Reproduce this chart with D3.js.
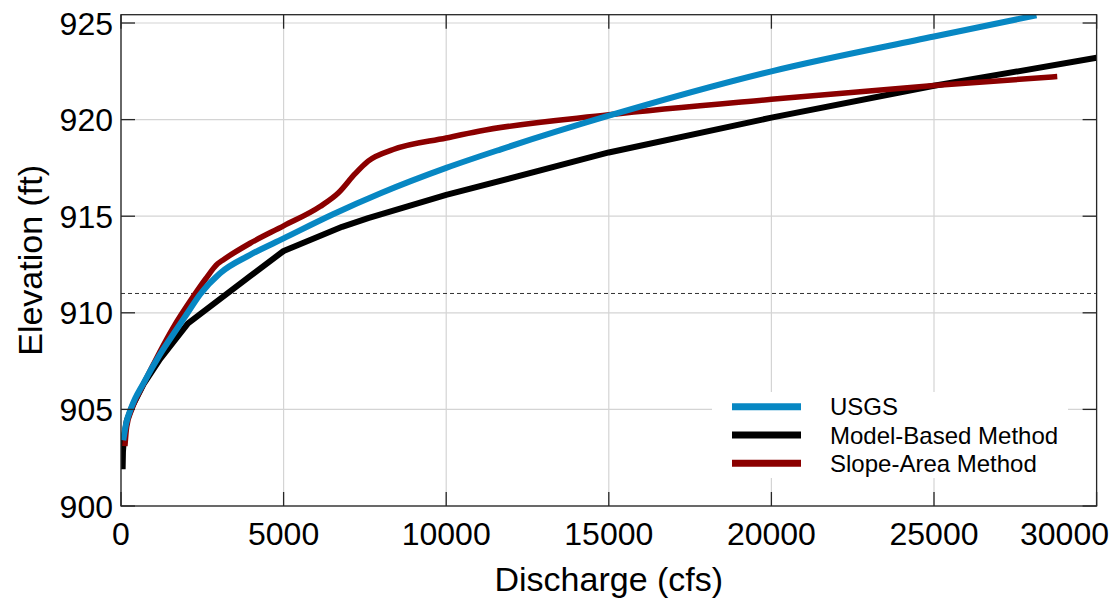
<!DOCTYPE html>
<html>
<head>
<meta charset="utf-8">
<script src="https://cdn.jsdelivr.net/npm/d3@7"></script>
<style>
  html, body { margin: 0; padding: 0; background: #fff; }
  svg { display: block; font-family: "Liberation Sans", Arial, sans-serif; }
</style>
</head>
<body>
<svg id="chart" width="1117" height="601"></svg>
<script>
// ---- data ----
const xTicks = [0, 5000, 10000, 15000, 20000, 25000, 30000];
const yTicks = [900, 905, 910, 915, 920, 925];
const refElevation = 911;

const usgsQ = [70, 150, 330, 690, 1200, 1710, 2030, 2430, 3046, 3970, 5000, 6520, 8000, 10000, 11660, 15000, 20000, 25000, 28150];
const usgsE = [903.4, 904.2, 905.15, 906.35, 907.85, 909.15, 909.95, 910.95, 912.05, 913.0, 913.85, 915.1, 916.2, 917.5, 918.45, 920.2, 922.5, 924.3, 925.4];

const modelQ = [50, 60, 90, 175, 330, 690, 1200, 1710, 2060, 3970, 5000, 6800, 7600, 10000, 15000, 20000, 25000, 30000];
const modelE = [901.9, 902.8, 903.5, 904.4, 905.1, 906.3, 907.6, 908.7, 909.45, 911.9, 913.2, 914.45, 914.9, 916.1, 918.3, 920.1, 921.75, 923.2];

const slopeQ = [120, 175, 330, 690, 1200, 1610, 2225, 2600, 2980, 3150, 3970, 5000, 6120, 6680, 7200, 7600, 8370, 10000, 11000, 15000, 20000, 25000, 28790];
const slopeE = [903.1, 904.1, 905.0, 906.3, 908.0, 909.25, 910.85, 911.75, 912.55, 912.75, 913.6, 914.5, 915.5, 916.2, 917.2, 917.85, 918.45, 919.05, 919.4, 920.25, 921.05, 921.76, 922.23];

const seriesNames = ["USGS", "Model-Based Method", "Slope-Area Method"];
const seriesColors = ["#0787c3", "#000000", "#8b0000"];

// ---- layout ----
const svg = d3.select("#chart");
const L = 121, R = 1096.6, T = 14.7, B = 506;
const x = d3.scaleLinear().domain([0, 30000]).range([L, R]);
const y = d3.scaleLinear().domain([900, 925.43]).range([B, T]);

const font = '"Liberation Sans", Arial, sans-serif';

// grid
const grid = svg.append("g");
grid.selectAll(".gx").data(xTicks).join("line")
  .attr("x1", d => x(d)).attr("x2", d => x(d)).attr("y1", T).attr("y2", B)
  .attr("stroke", "#d4d4d4").attr("stroke-width", 1.2);
grid.selectAll(".gy").data(yTicks).join("line")
  .attr("x1", L).attr("x2", R).attr("y1", d => y(d)).attr("y2", d => y(d))
  .attr("stroke", "#d4d4d4").attr("stroke-width", 1.2);

// reference dashed line
svg.append("line")
  .attr("x1", L).attr("x2", R).attr("y1", y(refElevation)).attr("y2", y(refElevation))
  .attr("stroke", "#333").attr("stroke-width", 1).attr("stroke-dasharray", "4,3");

// legend background (hides grid)
const legX = 712, legY = 392;
svg.append("rect").attr("x", legX).attr("y", legY).attr("width", 356).attr("height", 86)
  .attr("fill", "#fff");

// clip
svg.append("clipPath").attr("id", "clip").append("rect")
  .attr("x", L).attr("y", T).attr("width", R - L).attr("height", B - T);

const plot = svg.append("g").attr("clip-path", "url(#clip)");
const series = [
  { q: usgsQ, e: usgsE, curve: d3.curveMonotoneX, w: 6 },
  { q: modelQ, e: modelE, curve: d3.curveLinear, w: 6 },
  { q: slopeQ, e: slopeE, curve: d3.curveMonotoneX, w: 5.5 }
];
const order = [1, 2, 0];
order.forEach(i => {
  const s = series[i];
  const pts = s.q.map((q, k) => [q, s.e[k]]);
  plot.append("path").datum(pts)
    .attr("fill", "none").attr("stroke", seriesColors[i]).attr("stroke-width", s.w)
    .attr("stroke-linejoin", "round")
    .attr("d", d3.line().x(d => x(d[0])).y(d => y(d[1])).curve(s.curve));
});

// frame
svg.append("rect").attr("x", L).attr("y", T).attr("width", R - L).attr("height", B - T)
  .attr("fill", "none").attr("stroke", "#262626").attr("stroke-width", 1.3);

// inward ticks
const tickLen = 14;
const tk = svg.append("g").attr("stroke", "#262626").attr("stroke-width", 1.3);
xTicks.forEach(t => {
  tk.append("line").attr("x1", x(t)).attr("x2", x(t)).attr("y1", B).attr("y2", B - tickLen);
  tk.append("line").attr("x1", x(t)).attr("x2", x(t)).attr("y1", T).attr("y2", T + tickLen);
});
yTicks.forEach(t => {
  tk.append("line").attr("x1", L).attr("x2", L + tickLen).attr("y1", y(t)).attr("y2", y(t));
  tk.append("line").attr("x1", R).attr("x2", R - tickLen).attr("y1", y(t)).attr("y2", y(t));
});

// tick labels
svg.selectAll(".xl").data(xTicks).join("text")
  .attr("x", (d, i) => i === xTicks.length - 1 ? 1109 : x(d))
  .attr("y", 545)
  .attr("text-anchor", (d, i) => i === xTicks.length - 1 ? "end" : "middle")
  .attr("font-size", 32).attr("font-family", font).attr("fill", "#000")
  .text(d => d);
svg.selectAll(".yl").data(yTicks).join("text")
  .attr("x", 113).attr("y", d => y(d) + 11.5)
  .attr("text-anchor", "end")
  .attr("font-size", 32).attr("font-family", font).attr("fill", "#000")
  .text(d => d);

// axis titles
svg.append("text").attr("x", (L + R) / 2).attr("y", 591)
  .attr("text-anchor", "middle").attr("font-size", 34).attr("font-family", font)
  .text("Discharge (cfs)");
svg.append("text").attr("transform", `translate(42,${(T + B) / 2}) rotate(-90)`)
  .attr("text-anchor", "middle").attr("font-size", 34).attr("font-family", font)
  .text("Elevation (ft)");

// legend
const legRows = [406.7, 435, 463.3];
seriesNames.forEach((n, i) => {
  svg.append("line").attr("x1", 732).attr("x2", 801).attr("y1", legRows[i]).attr("y2", legRows[i])
    .attr("stroke", seriesColors[i]).attr("stroke-width", 7);
  svg.append("text").attr("x", 830).attr("y", legRows[i] + 8.6)
    .attr("font-size", 24).attr("font-family", font).attr("fill", "#000")
    .text(n);
});
</script>
</body>
</html>
